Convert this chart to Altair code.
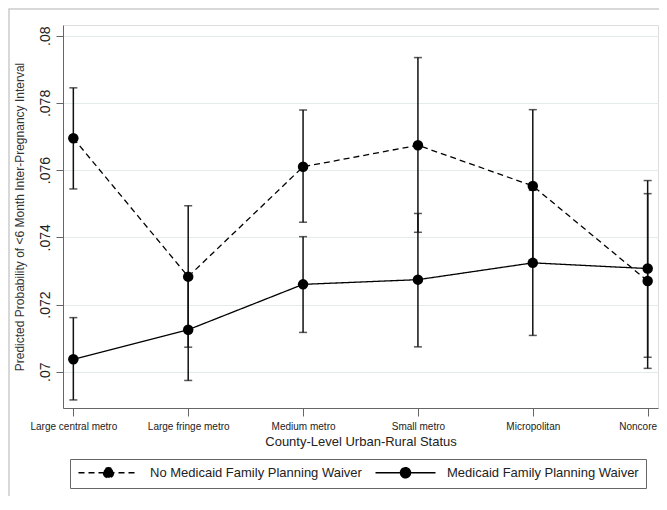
import altair as alt
import pandas as pd

categories = ["Large central metro", "Large fringe metro", "Medium metro",
              "Small metro", "Micropolitan", "Noncore"]
series_names = ["No Medicaid Family Planning Waiver", "Medicaid Family Planning Waiver"]

no_waiver = [0.07695, 0.07283, 0.07610, 0.07674, 0.07553, 0.07270]
no_waiver_lo = [0.07544, 0.07073, 0.07445, 0.07415, 0.07324, 0.07010]
no_waiver_hi = [0.07845, 0.07494, 0.07779, 0.07935, 0.07780, 0.07530]

waiver = [0.07037, 0.07125, 0.07260, 0.07274, 0.07324, 0.07307]
waiver_lo = [0.06916, 0.06974, 0.07117, 0.07074, 0.07108, 0.07043]
waiver_hi = [0.07161, 0.07276, 0.07402, 0.07471, 0.07540, 0.07569]

y_ticks = [0.070, 0.072, 0.074, 0.076, 0.078, 0.080]

rows = []
for i, c in enumerate(categories):
    rows.append({"cat": c, "series": series_names[0], "p": no_waiver[i],
                 "lo": no_waiver_lo[i], "hi": no_waiver_hi[i]})
for i, c in enumerate(categories):
    rows.append({"cat": c, "series": series_names[1], "p": waiver[i],
                 "lo": waiver_lo[i], "hi": waiver_hi[i]})
df = pd.DataFrame(rows)

x_enc = alt.X("cat:N", sort=categories,
              scale=alt.Scale(type="point", padding=0.09),
              axis=alt.Axis(title="County-Level Urban-Rural Status", labelAngle=0,
                            labelFont="Liberation Sans", labelFontSize=10,
                            labelColor="#222", titleFont="Liberation Sans",
                            titleFontSize=13, titleFontWeight="normal",
                            titleColor="#222", titlePadding=4,
                            labelOffset=alt.ExprRef(expr="datum.label == 'Noncore' ? -10 : 0"),
                            domainColor="#666", tickColor="#666", tickSize=8,
                            labelPadding=5, grid=False))
y_scale = alt.Scale(domain=[0.06892, 0.08032], nice=False, zero=False)
y_enc = alt.Y("p:Q", scale=y_scale,
              axis=alt.Axis(title="Predicted Probability of <6 Month Inter-Pregnancy Interval",
                            values=y_ticks,
                            labelExpr="replace(format(datum.value, '.3~f'), /^0/, '')",
                            labelAngle=270, labelAlign="center", labelBaseline="bottom",
                            labelFont="Liberation Sans", labelFontSize=14,
                            labelColor="#222", labelPadding=4,
                            titleFont="Liberation Sans", titleFontSize=12,
                            titleFontWeight="normal", titleColor="#333",
                            titlePadding=12,
                            domainColor="#666", tickColor="#666", tickSize=7,
                            grid=True, gridColor="#e3ebeb", gridWidth=1.2))

dash_scale = alt.Scale(domain=series_names, range=[[6, 4], [1, 0]])

lines = alt.Chart(df).mark_line(color="black", strokeWidth=1.3).encode(
    x=x_enc, y=y_enc,
    strokeDash=alt.StrokeDash("series:N", scale=dash_scale, sort=series_names,
                              legend=alt.Legend(
                                  title=None, orient="none", legendX=7, legendY=434,
                                  direction="horizontal", columns=2, gridAlign="all",
                                  symbolType="M-1,0H11M4,0a1,1 0 1,0 2,0a1,1 0 1,0 -2,0Z",
                                  symbolSize=100, symbolStrokeWidth=1.5,
                                  symbolStrokeColor="black", symbolFillColor="black",
                                  labelFont="Liberation Sans", labelFontSize=13,
                                  labelColor="#222", labelLimit=400, labelOffset=60,
                                  columnPadding=10, padding=7,
                                  strokeColor="#666", fillColor="white",
                                  labelBaseline="middle")),
    detail="series:N",
)

rules = alt.Chart(df).mark_rule(color="#111", strokeWidth=1.5).encode(
    x=alt.X("cat:N", sort=categories), y=alt.Y("lo:Q", scale=y_scale), y2="hi:Q")
caps_lo = alt.Chart(df).mark_tick(color="#111", thickness=1.5, size=8, orient="horizontal").encode(
    x=alt.X("cat:N", sort=categories), y=alt.Y("lo:Q", scale=y_scale))
caps_hi = alt.Chart(df).mark_tick(color="#111", thickness=1.5, size=8, orient="horizontal").encode(
    x=alt.X("cat:N", sort=categories), y=alt.Y("hi:Q", scale=y_scale))
points = alt.Chart(df).mark_circle(color="black", size=110, opacity=1).encode(
    x=alt.X("cat:N", sort=categories), y=alt.Y("p:Q", scale=y_scale))

# light outer frame of the graph region (decoration)
frame = alt.Chart(pd.DataFrame({"k": [0]})).mark_rect(
    fill=None, stroke="#cccccc", strokeWidth=1.5).encode(
    x=alt.value(-54), y=alt.value(-16), x2=alt.value(700), y2=alt.value(700))

chart = alt.layer(frame, lines, rules, caps_lo, caps_hi, points).properties(
    width=595, height=383,
    autosize=alt.AutoSizeParams(type="none"),
    padding={"left": 55, "top": 17, "right": 1, "bottom": 88},
).configure_view(stroke=None).configure(background="white")

chart.save("out.html", embed_options={"renderer": "svg", "actions": False})
